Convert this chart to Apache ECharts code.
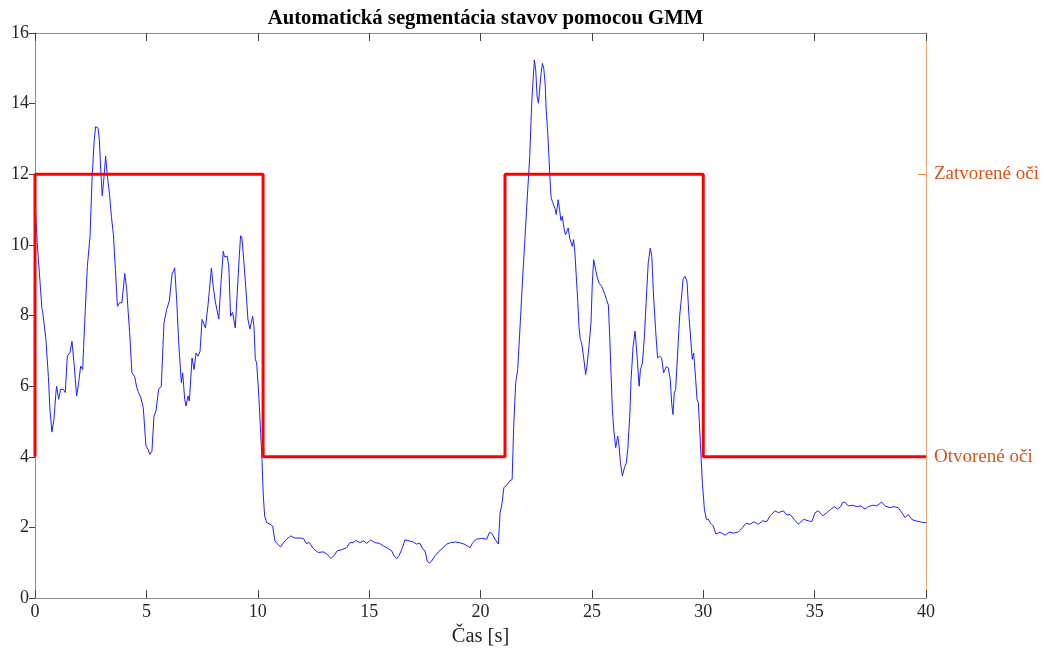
<!DOCTYPE html>
<html>
<head>
<meta charset="utf-8">
<script src="https://cdn.jsdelivr.net/npm/echarts@6/dist/echarts.min.js"></script>
<style>
  html, body { margin: 0; padding: 0; background: #fff; }
  #chart { width: 1043px; height: 652px; }
</style>
</head>
<body>
<div id="chart"></div>
<script>
// Signal (time in seconds, feature value)
const timeS = [
  0, 0.1, 0.22, 0.31, 0.35, 0.49, 0.6, 0.67, 0.76, 0.85, 0.94, 0.97, 1.06, 1.15, 1.27, 1.36, 1.45, 1.57, 1.66, 1.75,
  1.87, 1.96, 2.05, 2.14, 2.23, 2.35, 2.47, 2.56, 2.65, 2.72, 2.83, 2.89, 2.95, 3.02, 3.1, 3.17, 3.25, 3.34, 3.43, 3.52,
  3.61, 3.7, 3.79, 3.9, 4.03, 4.12, 4.17, 4.26, 4.35, 4.47, 4.57, 4.65, 4.74, 4.86, 4.98, 5.07, 5.16, 5.25, 5.34, 5.43,
  5.55, 5.67, 5.79, 5.91, 6.03, 6.15, 6.21, 6.27, 6.36, 6.45, 6.57, 6.63, 6.72, 6.78, 6.87, 6.93, 7.05, 7.14, 7.23, 7.32,
  7.41, 7.5, 7.56, 7.65, 7.77, 7.83, 7.92, 8.0, 8.09, 8.16, 8.25, 8.34, 8.45, 8.51, 8.63, 8.7, 8.78, 8.87, 8.99, 9.08,
  9.17, 9.23, 9.29, 9.38, 9.47, 9.56, 9.65, 9.71, 9.77, 9.83, 9.89, 9.95, 10.04, 10.13, 10.19, 10.25, 10.31, 10.4, 10.55, 10.67,
  10.77, 10.92, 11.03, 11.15, 11.3, 11.48, 11.67, 11.9, 12.05, 12.17, 12.32, 12.5, 12.72, 12.94, 13.12, 13.28, 13.42, 13.57, 13.77, 13.99,
  14.14, 14.29, 14.41, 14.59, 14.74, 14.89, 15.07, 15.26, 15.46, 15.64, 15.86, 16.01, 16.12, 16.24, 16.35, 16.5, 16.61, 16.8, 16.98, 17.13,
  17.28, 17.41, 17.51, 17.61, 17.7, 17.81, 17.96, 18.11, 18.26, 18.48, 18.66, 18.86, 19.05, 19.26, 19.41, 19.53, 19.65, 19.83, 20.05, 20.28,
  20.4, 20.5, 20.65, 20.8, 20.88, 20.95, 21.05, 21.17, 21.32, 21.42, 21.49, 21.58, 21.67, 21.76, 21.88, 22.0, 22.12, 22.21, 22.3, 22.37,
  22.42, 22.48, 22.54, 22.6, 22.66, 22.72, 22.78, 22.84, 22.9, 22.95, 23.02, 23.08, 23.13, 23.17, 23.25, 23.34, 23.4, 23.49, 23.55, 23.61,
  23.67, 23.76, 23.82, 23.88, 23.94, 24.0, 24.06, 24.12, 24.18, 24.24, 24.3, 24.37, 24.42, 24.48, 24.54, 24.6, 24.66, 24.72, 24.78, 24.87,
  24.96, 25.02, 25.08, 25.14, 25.23, 25.32, 25.44, 25.56, 25.66, 25.74, 25.8, 25.86, 25.92, 25.98, 26.07, 26.16, 26.22, 26.28, 26.37, 26.46,
  26.55, 26.61, 26.7, 26.76, 26.85, 26.94, 27.03, 27.12, 27.18, 27.27, 27.36, 27.45, 27.53, 27.62, 27.69, 27.77, 27.86, 27.95, 28.04, 28.13,
  28.22, 28.28, 28.34, 28.43, 28.52, 28.58, 28.64, 28.7, 28.76, 28.85, 28.94, 29.03, 29.09, 29.18, 29.27, 29.36, 29.45, 29.51, 29.57, 29.66,
  29.72, 29.78, 29.87, 29.96, 30.05, 30.14, 30.23, 30.33, 30.45, 30.57, 30.75, 30.98, 31.17, 31.35, 31.57, 31.77, 31.92, 32.1, 32.28, 32.47,
  32.67, 32.85, 33.0, 33.22, 33.37, 33.6, 33.75, 33.9, 34.08, 34.27, 34.5, 34.72, 34.87, 35.02, 35.17, 35.37, 35.55, 35.7, 35.88, 36.03,
  36.17, 36.26, 36.36, 36.51, 36.71, 36.89, 37.07, 37.26, 37.41, 37.61, 37.79, 38.01, 38.16, 38.38, 38.56, 38.75, 38.91, 39.06, 39.2, 39.36,
  39.51, 39.73, 39.88, 40.0
];
const energy = [
  11.25, 10.06, 9.0, 8.2, 8.08, 7.32, 6.28, 5.34, 4.7, 5.06, 5.82, 6.0, 5.63, 5.91, 5.91, 5.82, 6.85, 6.95, 7.27, 6.67,
  5.72, 6.1, 6.57, 6.47, 7.8, 9.39, 10.24, 11.84, 12.89, 13.35, 13.31, 12.97, 12.13, 11.39, 11.94, 12.52, 11.94, 11.47, 10.81, 10.29,
  9.3, 8.26, 8.36, 8.36, 9.19, 8.73, 8.22, 7.42, 6.38, 6.28, 5.96, 5.81, 5.7, 5.4, 4.31, 4.21, 4.07, 4.16, 5.15, 5.3,
  5.91, 6.0, 7.79, 8.17, 8.41, 9.16, 9.25, 9.35, 8.45, 7.23, 6.1, 6.38, 5.63, 5.44, 5.72, 5.58, 6.8, 6.47, 6.94, 6.85,
  6.99, 7.89, 7.92, 7.65, 8.31, 8.73, 9.35, 8.83, 8.41, 8.45, 7.9, 8.83, 9.82, 9.66, 9.68, 9.4, 7.98, 8.09, 7.65, 8.64,
  9.68, 10.26, 10.2, 9.49, 8.73, 7.89, 7.62, 7.6, 7.98, 7.7, 6.76, 6.66, 5.81, 4.68, 3.93, 2.89, 2.33, 2.14, 2.09, 2.04,
  1.62, 1.51, 1.45, 1.57, 1.67, 1.76, 1.7, 1.7, 1.69, 1.55, 1.57, 1.4, 1.29, 1.31, 1.24, 1.12, 1.2, 1.34, 1.37, 1.43,
  1.57, 1.57, 1.63, 1.57, 1.62, 1.55, 1.65, 1.57, 1.55, 1.48, 1.4, 1.34, 1.2, 1.12, 1.21, 1.43, 1.65, 1.62, 1.59, 1.53,
  1.55, 1.39, 1.34, 1.05, 0.99, 1.05, 1.2, 1.31, 1.39, 1.53, 1.57, 1.59, 1.57, 1.53, 1.48, 1.43, 1.57, 1.67, 1.69, 1.67,
  1.86, 1.84, 1.67, 1.53, 2.42, 2.61, 3.13, 3.19, 3.32, 3.36, 4.87, 6.1, 6.47, 7.51, 8.92, 10.24, 11.56, 12.5, 14.01, 14.76,
  15.24, 14.95, 14.2, 14.01, 14.06, 14.86, 15.14, 15.0, 14.58, 13.82, 13.16, 12.41, 11.75, 11.33, 11.19, 11.04, 10.86, 11.28, 11.0, 10.69,
  10.81, 10.43, 10.29, 10.24, 10.48, 10.2, 10.15, 9.96, 10.15, 9.77, 9.11, 8.36, 7.7, 7.32, 7.23, 7.27, 6.66, 6.33, 6.57, 7.13,
  7.79, 8.92, 9.58, 9.39, 9.11, 8.92, 8.83, 8.64, 8.45, 8.3, 7.42, 6.38, 5.34, 4.78, 4.26, 4.59, 4.31, 3.84, 3.46, 3.69,
  3.84, 4.21, 5.15, 6.19, 7.13, 7.56, 6.85, 6.0, 6.47, 6.66, 7.42, 8.55, 9.49, 9.91, 9.68, 8.55, 7.6, 6.8, 6.85, 6.8,
  6.38, 6.33, 6.55, 6.52, 6.19, 5.53, 5.2, 5.81, 5.91, 6.94, 7.98, 8.55, 9.02, 9.11, 8.97, 7.98, 7.23, 6.76, 6.94, 6.19,
  5.63, 5.53, 4.4, 3.27, 2.52, 2.23, 2.23, 2.12, 2.04, 1.81, 1.87, 1.78, 1.87, 1.84, 1.87, 2.0, 2.12, 2.09, 2.16, 2.09,
  2.19, 2.16, 2.33, 2.47, 2.42, 2.47, 2.35, 2.37, 2.23, 2.09, 2.23, 2.19, 2.16, 2.42, 2.47, 2.33, 2.42, 2.5, 2.59, 2.52,
  2.59, 2.71, 2.72, 2.61, 2.63, 2.59, 2.61, 2.52, 2.59, 2.63, 2.61, 2.72, 2.61, 2.56, 2.59, 2.56, 2.42, 2.28, 2.37, 2.23,
  2.19, 2.16, 2.14, 2.14
];

// Segmented states (step function)
const stateTime = [0, 0, 10.24, 10.24, 21.1, 21.1, 30.0, 30.0, 40];
const stateValue = [4, 12, 12, 4, 4, 12, 12, 4, 4];

// Right-axis state names
const stateTickValues = [4, 12];
const stateNames = { 4: 'Otvorené oči', 12: 'Zatvorené oči' };

const serif = '"Liberation Serif", "DejaVu Serif", serif';
const axisGray = '#8c8c8c';
const textDark = '#262626';
const orange = '#D95319';
const tickStyle = { color: '#404040', width: 1 };

const signalData = timeS.map((t, i) => [t, energy[i]]);
const stateData = stateTime.map((t, i) => [t, stateValue[i]]);

const chart = echarts.init(document.getElementById('chart'), null, { renderer: 'canvas' });

chart.setOption({
  animation: false,
  backgroundColor: '#ffffff',
  title: {
    text: 'Automatická segmentácia stavov pomocou GMM',
    left: 480.5,
    textAlign: 'center',
    top: 3,
    textStyle: { fontFamily: serif, fontSize: 20.7, fontWeight: 'bold', color: '#000' }
  },
  grid: { left: 35, right: 117, top: 33, bottom: 53, containLabel: false },
  xAxis: [
    {
      type: 'value', position: 'bottom', min: 0, max: 40, splitNumber: 8,
      name: 'Čas [s]', nameLocation: 'middle', nameGap: 27,
      nameTextStyle: { fontFamily: serif, fontSize: 20.5, color: textDark },
      axisLine: { show: true, lineStyle: { color: axisGray, width: 1 } },
      axisTick: { show: true, inside: true, length: 8, lineStyle: tickStyle },
      axisLabel: { fontFamily: serif, fontSize: 18, color: textDark, margin: 5 },
      splitLine: { show: false }
    },
    {
      type: 'value', position: 'top', min: 0, max: 40, splitNumber: 8,
      axisLine: { show: true, onZero: false, lineStyle: { color: axisGray, width: 1 } },
      axisTick: { show: true, inside: true, length: 8, lineStyle: tickStyle },
      axisLabel: { show: false },
      splitLine: { show: false }
    }
  ],
  yAxis: [
    {
      type: 'value', position: 'left', min: 0, max: 16, interval: 2,
      axisLine: { show: true, lineStyle: { color: axisGray, width: 1 } },
      axisTick: { show: true, inside: false, length: 6, lineStyle: tickStyle },
      axisLabel: { fontFamily: serif, fontSize: 18, color: textDark, margin: 6 },
      splitLine: { show: false }
    },
    {
      type: 'value', position: 'right', min: 0, max: 16,
      axisLine: { show: true, onZero: false, lineStyle: { color: '#f2a477', width: 1 } },
      axisTick: { show: true, inside: true, length: 8, customValues: stateTickValues,
        lineStyle: { color: '#e8844d' } },
      axisLabel: { fontFamily: serif, fontSize: 19, color: orange, margin: 8,
        customValues: stateTickValues,
        formatter: v => stateNames[v] || '' },
      splitLine: { show: false }
    }
  ],
  series: [
    {
      type: 'line', xAxisIndex: 0, yAxisIndex: 0, data: signalData,
      showSymbol: false, smooth: false,
      lineStyle: { color: '#2020ff', width: 1 }, z: 3
    },
    {
      type: 'line', xAxisIndex: 0, yAxisIndex: 0, data: stateData,
      showSymbol: false,
      lineStyle: { color: '#ff0000', width: 3 }, z: 4
    }
  ]
});
</script>
</body>
</html>
